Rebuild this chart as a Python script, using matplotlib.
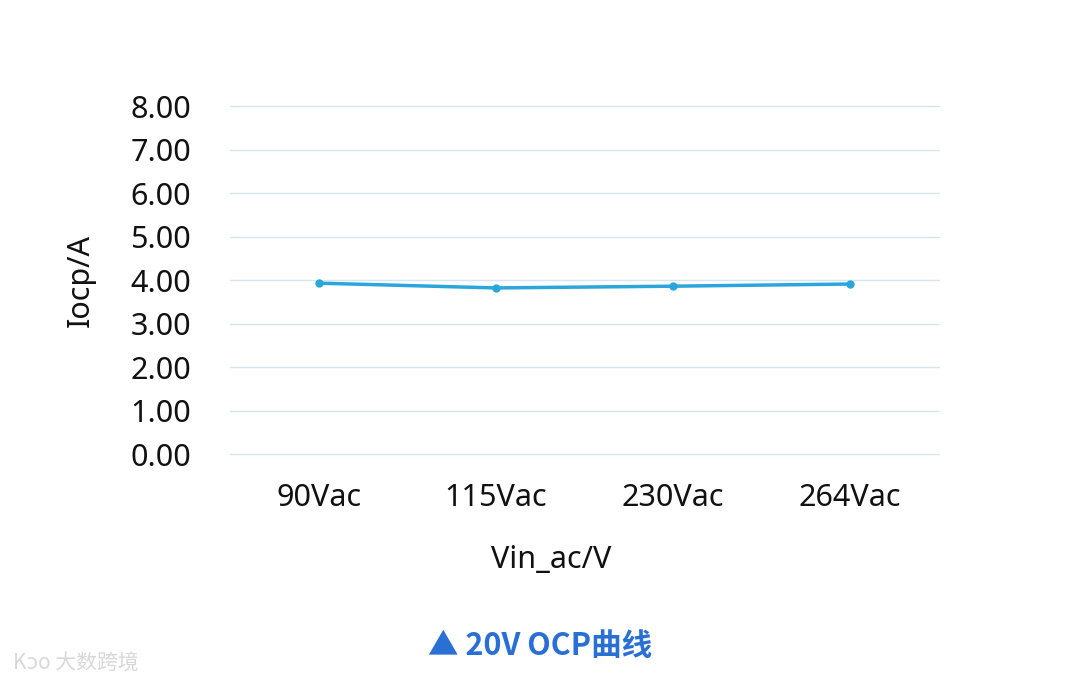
import matplotlib
matplotlib.use('Agg')
import matplotlib.pyplot as plt

plt.rcParams['font.family'] = ['Noto Sans', 'DejaVu Sans']

categories = ['90Vac', '115Vac', '230Vac', '264Vac']
iocp = [3.93, 3.82, 3.86, 3.91]
yticks = [0, 1, 2, 3, 4, 5, 6, 7, 8]

fig = plt.figure(figsize=(10.8, 6.84), dpi=100)
ax = fig.add_axes([0.213, 0.336, 0.656, 0.509])

x = list(range(len(categories)))
ax.plot(x, iocp, color='#2BA6DA', lw=2.5, marker='o', markersize=5)

ax.set_xlim(-0.5, len(categories) - 0.5)
ax.set_ylim(0, 8)
ax.set_yticks(yticks)
ax.set_yticklabels(['%.2f' % v for v in yticks])
ax.set_xticks(x)
ax.set_xticklabels(categories)
ax.tick_params(axis='both', length=0, labelsize=22, colors='#111111')
ax.tick_params(axis='x', pad=21)
ax.tick_params(axis='y', pad=28)
ax.yaxis.grid(True, color='#D6E6F0', lw=1)
for gl in ax.get_ygridlines():
    gl.set_clip_on(False)
ax.set_axisbelow(True)
for s in ax.spines.values():
    s.set_visible(False)

ax.set_ylabel('Iocp/A', fontsize=22, color='#111111')
ax.yaxis.set_label_coords(-0.189, 0.5, transform=ax.transAxes)
ax.set_xlabel('Vin_ac/V', fontsize=22, color='#111111')
ax.xaxis.set_label_coords(0.453, -0.26, transform=ax.transAxes)

fig.text(0.5, 0.055, '▲ 20V OCP曲线', ha='center', va='center', fontsize=22,
         fontweight='bold', color='#2A6FD3',
         family=['Noto Sans CJK SC', 'DejaVu Sans'])
fig.text(0.012, 0.03, 'Kɔo 大数跨境', ha='left', va='center', fontsize=15,
         color='#D8D8D8', family=['Noto Sans CJK SC', 'DejaVu Sans'])

fig.savefig('out.png', dpi=100)
